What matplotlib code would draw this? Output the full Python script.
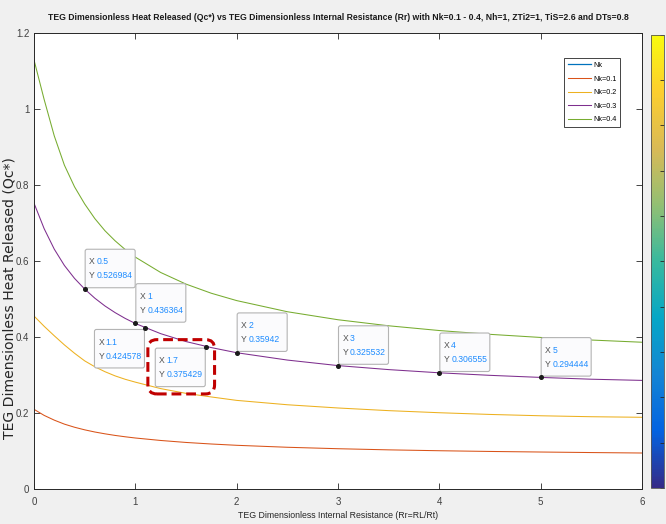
import numpy as np
import matplotlib
matplotlib.use("Agg")
import matplotlib.pyplot as plt
import matplotlib.transforms as mtransforms
import matplotlib.ticker as mtick
from matplotlib import cm, colors
from matplotlib.patches import FancyBboxPatch
from matplotlib.colors import LinearSegmentedColormap

# Dimensionless internal resistance Rr = RL/Rt
rr = [0, 0.1, 0.2, 0.3, 0.4, 0.5, 0.6, 0.7, 0.8, 0.9, 1.0,
      1.25, 1.5, 1.75, 2.0, 2.5, 3.0, 3.5, 4.0, 4.5, 5.0, 5.5, 6.0]

# Dimensionless heat released Qc* for each Nk
qc_nk01 = [0.2105, 0.1945, 0.1820, 0.1715, 0.1633, 0.1565, 0.1508, 0.1460, 0.1418, 0.1382, 0.1350,
           0.1285, 0.1233, 0.1192, 0.1158, 0.1106, 0.1068, 0.1038, 0.1015, 0.0996, 0.0981, 0.0967, 0.0955]
qc_nk02 = [0.456, 0.429, 0.404, 0.380, 0.358, 0.338, 0.3225, 0.3095, 0.2985, 0.2895, 0.282,
           0.265, 0.2525, 0.243, 0.234, 0.2225, 0.2140, 0.2070, 0.2015, 0.1970, 0.1935, 0.1910, 0.1895]
qc_nk03 = [0.753, 0.686, 0.632, 0.589, 0.555, 0.526984, 0.503, 0.4825, 0.465, 0.4497, 0.436364,
           0.4096, 0.3888, 0.3729, 0.35942, 0.3401, 0.325532, 0.3150, 0.306555, 0.2999, 0.294444, 0.2897, 0.2866]
qc_nk04 = [1.13, 1.026, 0.930, 0.853, 0.796, 0.751, 0.7125, 0.6805, 0.654, 0.631, 0.611,
           0.5706, 0.5400, 0.5159, 0.4966, 0.4673, 0.4462, 0.4303, 0.4178, 0.4078, 0.3996, 0.3928, 0.3870]

series_labels = ["Nk=0.1", "Nk=0.2", "Nk=0.3", "Nk=0.4"]

# Data tips placed on the Nk=0.3 curve
tip_x = [0.5, 1, 1.1, 1.7, 2, 3, 4, 5]
tip_y = [0.526984, 0.436364, 0.424578, 0.375429, 0.35942, 0.325532, 0.306555, 0.294444]
tip_side = ["ur", "ur", "ll", "ll", "ur", "ur", "ur", "ur"]
highlight_tip = 3

# MATLAB default line colours and parula colormap
line_colors = ["#0072BD", "#D95319", "#EDB120", "#7E2F8E", "#77AC30"]
parula = LinearSegmentedColormap.from_list(
    "parula", ["#352a87", "#0363e1", "#1485d4", "#06a7c6", "#38b99e",
               "#92bf73", "#d9ba56", "#fcce2e", "#f9fb0e"])

plt.rcParams["font.family"] = ["Liberation Sans", "DejaVu Sans"]


def add_data_tip(ax, x, y, side):
    fig = ax.figure
    anchor = fig.dpi_scale_trans + mtransforms.ScaledTranslation(x, y, ax.transData)
    w, h = 0.50, 0.385
    if side == "ur":
        bx, by = 0.005, 0.013
    else:
        bx, by = -0.51, -0.40
    ax.add_patch(FancyBboxPatch((bx, by), w, h, boxstyle="round,pad=0,rounding_size=0.02",
                                transform=anchor, fc="#fbfbfd", ec="#b4b4b4", lw=0.8,
                                zorder=7, clip_on=False))
    for i, (key, val) in enumerate([("X", f"{x:g}"), ("Y", f"{y:g}")]):
        ty = by + h - 0.127 - i * 0.14
        ax.text(bx + 0.04, ty, key, transform=anchor, color="#505050", va="center",
                fontsize=6.2, zorder=8)
        ax.text(bx + 0.113, ty, val, transform=anchor, color="#1e8cff", va="center",
                fontsize=6.2, zorder=8)
    ax.plot([x], [y], "o", ms=2.6, color="#1a1a1a", zorder=9, clip_on=False)
    return anchor


fig = plt.figure(figsize=(6.66, 5.24), dpi=100, facecolor="#f0f0f0")
ax = fig.add_axes([34 / 666, 1 - 489.3 / 524, (642 - 34) / 666, (489.3 - 33.3) / 524])
ax.set_facecolor("white")

ax.plot([], [], color=line_colors[0], lw=0.9, label="Nk")
for vals, lab, col in zip([qc_nk01, qc_nk02, qc_nk03, qc_nk04], series_labels, line_colors[1:]):
    ax.plot(rr, vals, color=col, lw=0.75, label=lab)

ax.set_xlim(0, 6)
ax.set_ylim(0, 1.2)
ax.set_xticks(range(7))
ax.set_yticks(np.arange(0, 1.21, 0.2))
ax.yaxis.set_major_formatter(mtick.FuncFormatter(lambda v, p: f"{v:g}"))
ax.tick_params(direction="in", length=4.3, width=0.6, top=True, right=True,
               color="#262626", labelcolor="#404040", labelsize=7)
ax.tick_params(axis="x", pad=5.5)
ax.tick_params(axis="y", pad=3.4)
for sp in ax.spines.values():
    sp.set_color("#262626")
    sp.set_linewidth(0.7)

ax.set_title("TEG Dimensionless Heat Released (Qc*) vs TEG Dimensionless Internal Resistance (Rr) "
             "with Nk=0.1 - 0.4, Nh=1, ZTi2=1, TiS=2.6 and DTs=0.8",
             fontsize=6.25, fontweight="bold", color="#1a1a1a", pad=9.5)
ax.set_xlabel("TEG Dimensionless Internal Resistance (Rr=RL/Rt)", fontsize=6.3, color="#262626", va="top")
ax.xaxis.set_label_coords(0.5, -0.047)
ax.set_ylabel("TEG Dimensionless Heat Released (Qc*)", fontsize=10.1, color="#262626",
              family="DejaVu Sans")
ax.yaxis.set_label_coords(-0.028, 0.419)

leg = ax.legend(loc="upper right", bbox_to_anchor=(0.9638, 0.9452), borderaxespad=0,
                fontsize=5.2, handlelength=3.2, handletextpad=0.3, labelspacing=0.9,
                borderpad=0.5, fancybox=False, edgecolor="#262626", framealpha=1)
leg.get_frame().set_linewidth(0.6)

for x, y, side in zip(tip_x, tip_y, tip_side):
    anchor = add_data_tip(ax, x, y, side)
    if x == tip_x[highlight_tip]:
        ax.add_patch(FancyBboxPatch((-0.584, -0.473), 0.667, 0.543,
                                    boxstyle="round,pad=0,rounding_size=0.09",
                                    transform=anchor, fill=False, ec="#c00000", lw=2.2,
                                    ls=(0, (3.2, 1.6)), zorder=10, clip_on=False))

cax = fig.add_axes([651 / 666, 1 - 488 / 524, 13 / 666, (488 - 34.7) / 524])
sm = cm.ScalarMappable(norm=colors.Normalize(0, 1), cmap=parula)
cb = fig.colorbar(sm, cax=cax, ticks=np.linspace(0, 1, 11))
cax.tick_params(direction="in", length=3, width=0.6, right=True, labelright=False, color="#262626")
cb.outline.set_edgecolor("#555555")
cb.outline.set_linewidth(0.6)

fig.savefig("out.png", dpi=100, facecolor=fig.get_facecolor())
